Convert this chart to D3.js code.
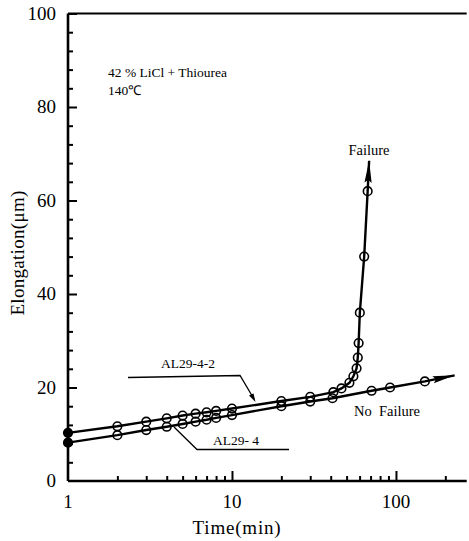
<!DOCTYPE html>
<html><head><meta charset="utf-8">
<script src="https://cdn.jsdelivr.net/npm/d3@7"></script>
<style>body{margin:0;background:#fff} svg{display:block}</style>
</head><body><svg id="c" width="469" height="541"></svg>
<script>
// ---- data ----
const xMajorTicks = [1, 10, 100];
const xTickLabels = ["1", "10", "100"];
const xMinorTicks = [2,3,4,5,6,7,8,9,20,30,40,50,60,70,80,90,200];
const yTicks = [0, 20, 40, 60, 80, 100];
const yMinorTicks = [4,8,12,16,24,28,32,36,44,48,52,56,64,68,72,76,84,88,92,96];

const failTime = [1,2,3,4,5,6,7,8,10,20,30,41.5,46.5,52,55,57.5,58.5,59.2,60.2,64,67.2];
const failElong = [10.3,11.7,12.7,13.4,14.0,14.4,14.7,15.0,15.5,17.1,18.0,19.0,19.8,21.0,22.4,24.1,26.4,29.5,36,48,62];
const failArrowTip = [68.6, 68.5];

const noFailTime = [1,2,3,4,5,6,7,8,10,20,30,41,71,92,150];
const noFailElong = [8.2,9.8,10.9,11.6,12.2,12.7,13.1,13.5,14.1,16.0,17.0,17.7,19.3,20.0,21.3];
const noFailArrowTip = [228, 22.6];

// ---- layout ----
const FONT = '"Liberation Serif"';
const svg = d3.select("#c");
const x = d3.scaleLog().domain([1, 270]).range([68, 466.7]);
const y = d3.scaleLinear().domain([0, 100]).range([481, 13.5]);
function txt(sel) { return sel.style("font-family", FONT).attr("fill", "#000"); }

// axes frame
const g = svg.append("g");
g.append("line").attr("x1", x(1)).attr("x2", x(1)).attr("y1", y(100)).attr("y2", y(0))
  .attr("stroke", "#000").attr("stroke-width", 2.6);
g.append("line").attr("x1", x(1)).attr("x2", x(270)).attr("y1", y(0)).attr("y2", y(0))
  .attr("stroke", "#000").attr("stroke-width", 2.6);
g.append("line").attr("x1", x(1)).attr("x2", x(270)).attr("y1", y(100)).attr("y2", y(100))
  .attr("stroke", "#000").attr("stroke-width", 2);

// y axis ticks (inward)
const yAxis = d3.axisRight(y).tickValues(yTicks.slice(1)).tickSize(9).tickFormat("");
const ya = svg.append("g").attr("transform", `translate(${x(1)},0)`).call(yAxis);
ya.select(".domain").remove();
ya.selectAll("line").attr("stroke-width", 2);
const yAxisMinor = d3.axisRight(y).tickValues(yMinorTicks).tickSize(5).tickFormat("");
const yam = svg.append("g").attr("transform", `translate(${x(1)},0)`).call(yAxisMinor);
yam.select(".domain").remove();
yam.selectAll("line").attr("stroke-width", 2);
txt(svg.append("g").selectAll("text").data(yTicks).join("text")
  .attr("x", 56).attr("y", d => y(d) + 6).attr("text-anchor", "end")
  .attr("font-size", 19).text(d => d));

// x axis ticks (inward)
const xAxis = d3.axisTop(x).tickValues(xMajorTicks.slice(1)).tickSize(10).tickFormat("");
const xa = svg.append("g").attr("transform", `translate(0,${y(0)})`).call(xAxis);
xa.select(".domain").remove();
xa.selectAll("line").attr("stroke-width", 2);
const xAxisMinor = d3.axisTop(x).tickValues(xMinorTicks).tickSize(5).tickFormat("");
const xam = svg.append("g").attr("transform", `translate(0,${y(0)})`).call(xAxisMinor);
xam.select(".domain").remove();
xam.selectAll("line").attr("stroke-width", 2);
txt(svg.append("g").selectAll("text").data(xMajorTicks).join("text")
  .attr("x", d => x(d)).attr("y", 508).attr("text-anchor", "middle")
  .attr("font-size", 19).text((d, i) => xTickLabels[i]));

// axis titles
txt(svg.append("text").attr("x", 237).attr("y", 534).attr("text-anchor", "middle")
  .attr("font-size", 19).attr("letter-spacing", 0.8).text("Time(min)"));
txt(svg.append("text").attr("transform", "translate(24,253) rotate(-90)").attr("text-anchor", "middle")
  .attr("font-size", 19).attr("letter-spacing", 0.3).text("Elongation(μm)"));

// data lines
const line = d3.line().x(d => x(d[0])).y(d => y(d[1]));
function series(ts, vs, tip) {
  const pts = ts.map((t, i) => [t, vs[i]]);
  svg.append("path").datum(pts.concat([tip])).attr("d", line)
    .attr("fill", "none").attr("stroke", "#000").attr("stroke-width", 2.4);
  svg.append("g").selectAll("circle").data(pts).join("circle")
    .attr("cx", d => x(d[0])).attr("cy", d => y(d[1])).attr("r", 4.3)
    .attr("fill", (d, i) => i === 0 ? "#000" : "none").attr("stroke", "#000").attr("stroke-width", 1.6);
  // arrow head
  const last = pts[pts.length - 1];
  const p0 = [x(last[0]), y(last[1])], p1 = [x(tip[0]), y(tip[1])];
  const dx = p1[0] - p0[0], dy = p1[1] - p0[1], L = Math.hypot(dx, dy);
  const ux = dx / L, uy = dy / L, len = 22, w = 3.6;
  const bx = p1[0] - ux * len, by = p1[1] - uy * len;
  svg.append("path").attr("d",
    `M${p1[0]},${p1[1]}L${bx - uy * w},${by + ux * w}L${bx + ux * 3},${by + uy * 3}L${bx + uy * w},${by - ux * w}Z`)
    .attr("fill", "#000");
}
series(failTime, failElong, failArrowTip);
series(noFailTime, noFailElong, noFailArrowTip);

// annotations
txt(svg.append("text").attr("x", 108).attr("y", 77).attr("font-size", 13.5)
  .text("42 % LiCl + Thiourea"));
txt(svg.append("text").attr("x", 108).attr("y", 95).attr("font-size", 13.5)
  .text("140℃"));
txt(svg.append("text").attr("x", 369).attr("y", 155).attr("text-anchor", "middle")
  .attr("font-size", 14.5).text("Failure"));
txt(svg.append("text").attr("x", 354).attr("y", 416).attr("font-size", 14.5)
  .attr("xml:space", "preserve").text("No  Failure"));
txt(svg.append("text").attr("x", 188).attr("y", 368).attr("text-anchor", "middle")
  .attr("font-size", 13.5).text("AL29-4-2"));
txt(svg.append("text").attr("x", 213).attr("y", 445)
  .attr("font-size", 13.5).attr("xml:space", "preserve").text("AL29- 4"));

// leader lines
svg.append("path").attr("d", "M128,377.5L240,375.5L254,399")
  .attr("fill", "none").attr("stroke", "#000").attr("stroke-width", 1.3);
svg.append("path").attr("d", "M255.5,402L249,395.5L253.5,393.5Z").attr("fill", "#000");
svg.append("path").attr("d", "M174,427L197,449.5L289,449.5")
  .attr("fill", "none").attr("stroke", "#000").attr("stroke-width", 1.3);
</script></body></html>
